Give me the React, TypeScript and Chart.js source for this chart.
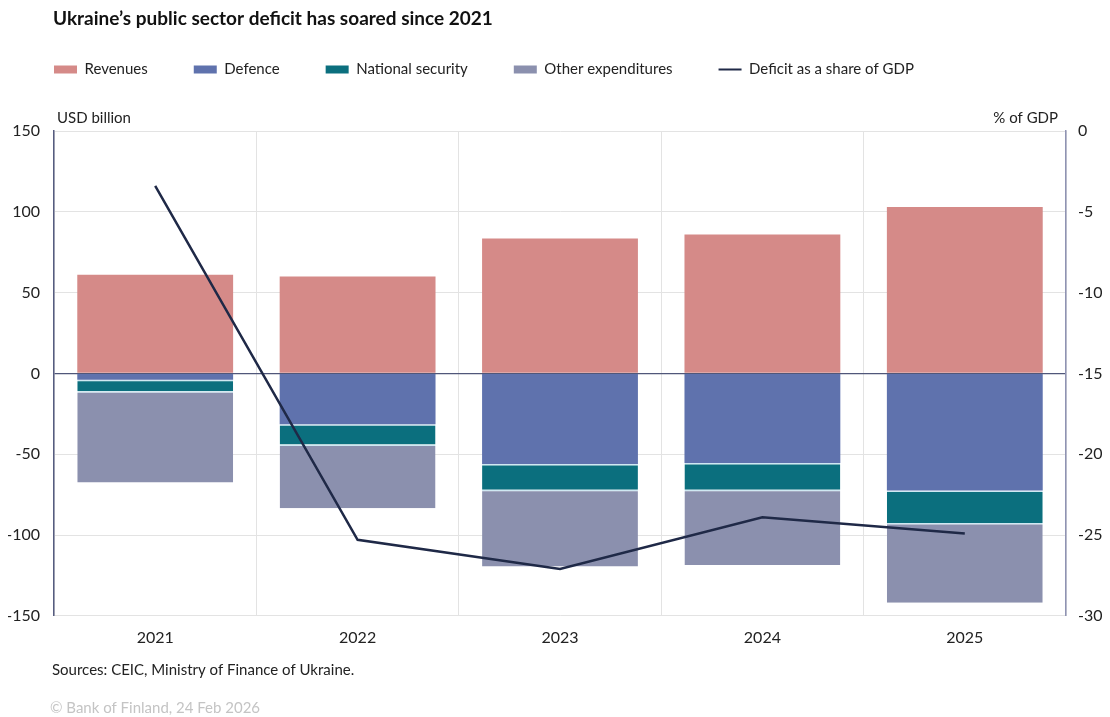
import React, { useEffect, useRef } from "react";
import { Chart, registerables, layouts } from "chart.js";

Chart.register(...registerables);

const years = ["2021", "2022", "2023", "2024", "2025"];
const revenues = [61, 60, 83.5, 86, 103];
const defence = [-4, -31.5, -56, -55.5, -72.5];
const nationalSecurity = [-7, -12.5, -16, -16.5, -20];
const otherExpenditures = [-56.5, -39.5, -47.5, -46.5, -49.5];
const deficitShare = [-3.4, -25.3, -27.1, -23.9, -24.9];

const leftTicks = { min: -150, max: 150, step: 50 };
const rightTicks = { min: -30, max: 0, step: 5 };

const titleText = "Ukraine\u2019s public sector deficit has soared since 2021";
const leftUnit = "USD billion";
const rightUnit = "% of GDP";
const sourcesText = "Sources: CEIC, Ministry of Finance of Ukraine.";
const copyrightText = "\u00a9 Bank of Finland, 24 Feb 2026";

const FONT = "Lato, 'Open Sans', sans-serif";
const COLORS = {
  revenues: "#d58a88",
  defence: "#5f72ad",
  ns: "#0b6f7e",
  other: "#8b90ae",
  line: "#1f2947",
  sep: "#cfe8f2",
  grid: "#e3e3e3",
};

const spacerPlugin = {
  id: "unitSpacer",
  beforeInit(chart: any) {
    const box: any = {
      position: "top",
      weight: 500,
      fullSize: true,
      options: {},
      left: 0,
      top: 0,
      right: 0,
      bottom: 0,
      width: 0,
      height: 0,
      isHorizontal() {
        return true;
      },
      update(maxWidth: number) {
        this.width = maxWidth;
        this.height = 44;
      },
      draw() {},
    };
    layouts.addBox(chart, box);
  },
};

const textPlugin = {
  id: "extraTexts",
  afterDraw(chart: any) {
    const { ctx, chartArea } = chart;
    ctx.save();
    ctx.textBaseline = "middle";
    ctx.fillStyle = "#111";
    ctx.textAlign = "left";
    ctx.font = `bold 19px ${FONT}`;
    ctx.fillText(titleText, 53, 19);
    ctx.font = `15px ${FONT}`;
    ctx.fillStyle = "#222";
    ctx.fillText(leftUnit, chartArea.left + 3, chartArea.top - 13);
    ctx.textAlign = "right";
    ctx.fillText(rightUnit, chartArea.right - 8, chartArea.top - 13);
    ctx.textAlign = "left";
    ctx.fillText(sourcesText, 52, chartArea.bottom + 54);
    ctx.fillStyle = "#c4c4c4";
    ctx.fillText(copyrightText, 50, chartArea.bottom + 92);
    ctx.restore();
  },
};

export default function App() {
  const canvasRef = useRef<HTMLCanvasElement | null>(null);

  useEffect(() => {
    if (!canvasRef.current) return;
    const sepBorder = { top: 1.5, right: 0, bottom: 0, left: 0 };
    const barCommon = {
      type: "bar" as const,
      stack: "s",
      yAxisID: "y",
      barPercentage: 0.77,
      categoryPercentage: 1,
      order: 1,
      borderSkipped: false as any,
      borderColor: COLORS.sep,
    };
    const chart = new Chart(canvasRef.current, {
      data: {
        labels: years,
        datasets: [
          { ...barCommon, label: "Revenues", data: revenues, backgroundColor: COLORS.revenues, borderWidth: 0 },
          { ...barCommon, label: "Defence", data: defence, backgroundColor: COLORS.defence, borderWidth: 0 },
          { ...barCommon, label: "National security", data: nationalSecurity, backgroundColor: COLORS.ns, borderWidth: sepBorder },
          { ...barCommon, label: "Other expenditures", data: otherExpenditures, backgroundColor: COLORS.other, borderWidth: sepBorder },
          {
            type: "line" as const,
            label: "Deficit as a share of GDP",
            data: deficitShare,
            yAxisID: "y1",
            borderColor: COLORS.line,
            backgroundColor: COLORS.line,
            borderWidth: 2.5,
            pointRadius: 0,
            tension: 0,
            order: 0,
          },
        ],
      } as any,
      options: {
        animation: false,
        responsive: true,
        maintainAspectRatio: false,
        layout: { padding: { top: 16, left: 8, right: 8, bottom: 58 } },
        plugins: {
          tooltip: { enabled: false },
          title: { display: false },
          legend: {
            display: true,
            position: "top",
            align: "start",
            labels: {
              usePointStyle: true,
              pointStyleWidth: 23,
              boxHeight: 8,
              padding: 46,
              color: "#222",
              font: { family: FONT, size: 15 },
              generateLabels: (c: any) =>
                c.data.datasets.map((ds: any, i: number) => {
                  const isLine = ds.type === "line";
                  return {
                    text: ds.label,
                    datasetIndex: i,
                    fillStyle: ds.backgroundColor,
                    strokeStyle: isLine ? ds.borderColor : ds.backgroundColor,
                    lineWidth: isLine ? 2 : 0,
                    pointStyle: isLine ? "line" : "rect",
                    hidden: false,
                    fontColor: "#222",
                  };
                }),
            },
          },
        },
        scales: {
          x: {
            stacked: true,
            offset: true,
            grid: { color: COLORS.grid, offset: true, drawTicks: false },
            border: { display: false },
            ticks: { color: "#222", font: { family: FONT, size: 16 }, padding: 12 },
          },
          y: {
            stacked: true,
            position: "left",
            min: leftTicks.min,
            max: leftTicks.max,
            afterFit: (s: any) => {
              s.width = 46;
            },
            ticks: {
              stepSize: leftTicks.step,
              color: "#222",
              font: { family: FONT, size: 16 },
              padding: 14,
            },
            grid: {
              drawTicks: false,
              color: (ctx: any) => (ctx.tick && ctx.tick.value === 0 ? "#50577a" : COLORS.grid),
              lineWidth: (ctx: any) => (ctx.tick && ctx.tick.value === 0 ? 1.3 : 1),
            },
            border: { display: true, color: "#565c80", width: 1.5 },
          },
          y1: {
            position: "right",
            min: rightTicks.min,
            max: rightTicks.max,
            afterFit: (s: any) => {
              s.width = 36;
            },
            ticks: {
              stepSize: rightTicks.step,
              color: "#222",
              font: { family: FONT, size: 16 },
              padding: 12,
            },
            grid: { drawOnChartArea: false, drawTicks: false },
            border: { display: true, color: "#8f93b3", width: 1.5 },
          },
        },
      },
      plugins: [spacerPlugin, textPlugin],
    } as any);
    return () => chart.destroy();
  }, []);

  return (
    <div style={{ position: "fixed", left: 0, top: 0, width: 1110, height: 717, background: "#fff" }}>
      <canvas ref={canvasRef} />
    </div>
  );
}
